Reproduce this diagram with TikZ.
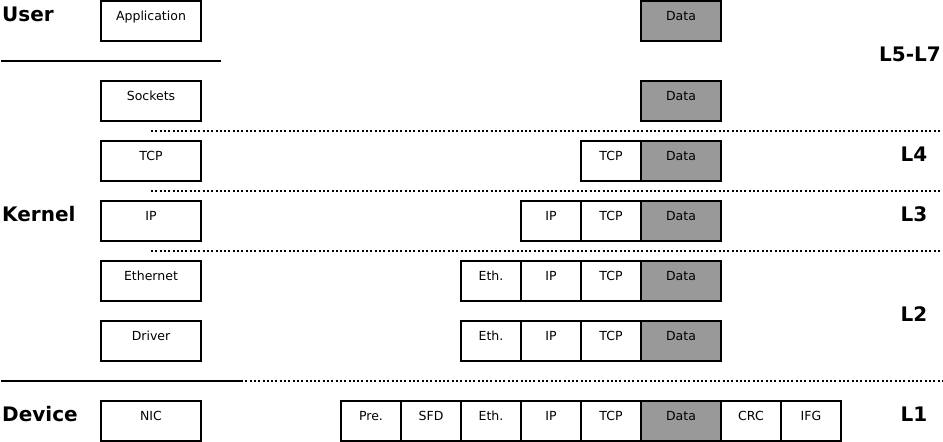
\documentclass[tikz,border=0pt]{standalone}
\usepackage{fontspec}
\setmainfont{DejaVu Sans}
\begin{document}
\begin{tikzpicture}[x=1pt,y=-1pt,
  cell/.style={draw, line width=1.8pt, fill=white, anchor=north west, inner sep=0pt, outer sep=0pt,
    minimum height=40pt, text height=9.5pt, text depth=10.5pt, font=\fontsize{12.5}{14}\selectfont},
  datacell/.style={cell, fill=gray60},
  layerlbl/.style={font=\fontsize{20}{23}\selectfont\bfseries, inner sep=0pt},
  sep/.style={line width=1.8pt},
  dotsep/.style={line width=1.8pt, dash pattern=on 2pt off 2.3pt}]
\definecolor{gray60}{HTML}{999999}
\useasboundingbox (0,0) rectangle (943,442);

\newcommand{\mkcell}[6]{\node[#6, minimum width={#3-#2}] (#1) at (#2,#4) {#5};}

% left column
\mkcell{app}{101}{201}{1}{Application}{cell}
\mkcell{sock}{101}{201}{81}{Sockets}{cell}
\mkcell{tcpL}{101}{201}{141}{TCP}{cell}
\mkcell{ipL}{101}{201}{201}{IP}{cell}
\mkcell{ethL}{101}{201}{261}{Ethernet}{cell}
\mkcell{drvL}{101}{201}{321}{Driver}{cell}
\mkcell{nicL}{101}{201}{401}{NIC}{cell}

% row 0
\mkcell{d0}{641}{721}{1}{Data}{datacell}
% row 1
\mkcell{d1}{641}{721}{81}{Data}{datacell}
% row 2
\mkcell{t2}{581}{641}{141}{TCP}{cell}
\mkcell{d2}{641}{721}{141}{Data}{datacell}
% row 3
\mkcell{i3}{521}{581}{201}{IP}{cell}
\mkcell{t3}{581}{641}{201}{TCP}{cell}
\mkcell{d3}{641}{721}{201}{Data}{datacell}
% row 4
\mkcell{e4}{461}{521}{261}{Eth.}{cell}
\mkcell{i4}{521}{581}{261}{IP}{cell}
\mkcell{t4}{581}{641}{261}{TCP}{cell}
\mkcell{d4}{641}{721}{261}{Data}{datacell}
% row 5
\mkcell{e5}{461}{521}{321}{Eth.}{cell}
\mkcell{i5}{521}{581}{321}{IP}{cell}
\mkcell{t5}{581}{641}{321}{TCP}{cell}
\mkcell{d5}{641}{721}{321}{Data}{datacell}
% row 6
\mkcell{p6}{341}{401}{401}{Pre.}{cell}
\mkcell{s6}{401}{461}{401}{SFD}{cell}
\mkcell{e6}{461}{521}{401}{Eth.}{cell}
\mkcell{i6}{521}{581}{401}{IP}{cell}
\mkcell{t6}{581}{641}{401}{TCP}{cell}
\mkcell{d6}{641}{721}{401}{Data}{datacell}
\mkcell{c6}{721}{781}{401}{CRC}{cell}
\mkcell{g6}{781}{841}{401}{IFG}{cell}

% separators
\coordinate (u1) at (1,61);   \coordinate (u2) at (221,61);
\coordinate (a1) at (151,131); \coordinate (a2) at (942,131);
\coordinate (b1) at (151,191); \coordinate (b2) at (942,191);
\coordinate (c1) at (151,251); \coordinate (c2) at (942,251);
\coordinate (k1) at (1,381);  \coordinate (k2) at (241,381); \coordinate (k3) at (942,381);
\draw[sep] (u1) -- (u2);
\draw[dotsep] (a1) -- (a2);
\draw[dotsep] (b1) -- (b2);
\draw[dotsep] (c1) -- (c2);
\draw[sep] (k1) -- (k2);
\draw[dotsep] (k2) -- (k3);

% domain labels
\node[layerlbl, anchor=west] (user) at (2,14) {User};
\node[layerlbl, anchor=west] (kernel) at (2,214) {Kernel};
\node[layerlbl, anchor=west] (device) at (2,414) {Device};

% layer labels
\node[layerlbl] (l57) at (910,54) {L5-L7};
\node[layerlbl] (l4) at (914,154) {L4};
\node[layerlbl] (l3) at (914,214) {L3};
\node[layerlbl] (l2) at (914,314) {L2};
\node[layerlbl] (l1) at (914,414) {L1};
\end{tikzpicture}
\end{document}
